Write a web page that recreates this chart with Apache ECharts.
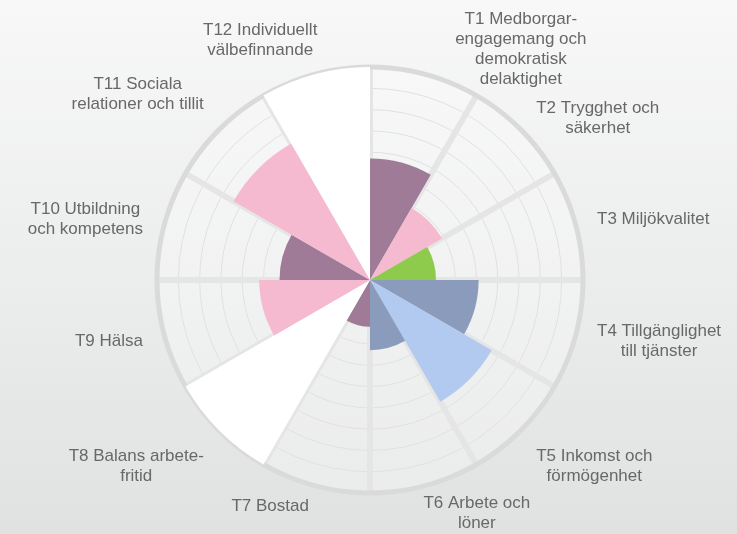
<!DOCTYPE html>
<html>
<head>
<meta charset="utf-8">
<script src="https://cdn.jsdelivr.net/npm/echarts@6/dist/echarts.min.js"></script>
<style>
  html, body { margin: 0; padding: 0; }
  body { background: linear-gradient(#f8f8f8, #e0e2e2); }
  #chart { width: 737px; height: 534px; }
</style>
</head>
<body>
<div id="chart"></div>
<script>
const categories = [
  'T1 Medborgar-\nengagemang och\ndemokratisk\ndelaktighet',
  'T2 Trygghet och\nsäkerhet',
  'T3 Miljökvalitet',
  'T4 Tillgänglighet\ntill tjänster',
  'T5 Inkomst och\nförmögenhet',
  'T6 Arbete och\nlöner',
  'T7 Bostad',
  'T8 Balans arbete-\nfritid',
  'T9 Hälsa',
  'T10 Utbildning\noch kompetens',
  'T11 Sociala\nrelationer och tillit',
  'T12 Individuellt\nvälbefinnande'
]
const values = [5.7, 3.9, 3.1, 5.1, 6.6, 3.3, 2.2, 10, 5.2, 4.25, 7.4, 10]
const radiusTicks = [0, 1, 2, 3, 4, 5, 6, 7, 8, 9, 10]

// styling only
const barColors = ['#a07b98', '#f5b9d0', '#8ecb4c', '#8b9bbb', '#b2caef', '#8b9bbb',
  '#a07b98', '#ffffff', '#f5b9d0', '#a07b98', '#f5b9d0', '#ffffff']
// nudges so the labels sit where the original put them (padding: top, right, bottom, left)
const labelPadding = {
  0: [0, 0, -36, 180],
  1: [0, 0, -24, 0],
  5: [-14, 0, 0, 92],
  6: [-11, 78, 0, 0],
  11: [0, 98, -7, 0]
}

const chart = echarts.init(document.getElementById('chart'))
const textColor = '#686868'

const option = {
  backgroundColor: 'transparent',
  animation: false,
  polar: {
    center: [370, 280],
    radius: 213
  },
  angleAxis: {
    type: 'category',
    startAngle: 90,
    clockwise: true,
    data: categories.map((name, i) => labelPadding[i]
      ? { value: name, textStyle: { padding: labelPadding[i] } }
      : name),
    axisLine: { show: true, lineStyle: { color: '#dadada', width: 5 } },
    axisTick: { show: false },
    splitLine: { show: true, lineStyle: { color: '#dadada', width: 6 } },
    splitArea: { show: true, areaStyle: { color: ['rgba(255,255,255,0.3)'] } },
    axisLabel: {
      margin: 22,
      formatter: (v) => v.split('\n').map(l => '{c|' + l + '}').join('\n'),
      rich: {
        c: {
          align: 'center',
          fontSize: 17,
          lineHeight: 20,
          color: textColor,
          fontFamily: 'Liberation Sans, Arial, sans-serif'
        }
      }
    }
  },
  radiusAxis: {
    type: 'value',
    min: radiusTicks[0],
    max: radiusTicks[radiusTicks.length - 1],
    interval: radiusTicks[1] - radiusTicks[0],
    axisLine: { show: false },
    axisTick: { show: false },
    axisLabel: { show: false },
    splitLine: { show: true, lineStyle: { color: '#d3d3d3', width: 1 } }
  },
  series: [
    {
      type: 'bar',
      coordinateSystem: 'polar',
      barCategoryGap: '0%',
      data: values.map((v, i) => ({ value: v, itemStyle: { color: barColors[i] } }))
    }
  ]
}

chart.setOption(option)
</script>
</body>
</html>
